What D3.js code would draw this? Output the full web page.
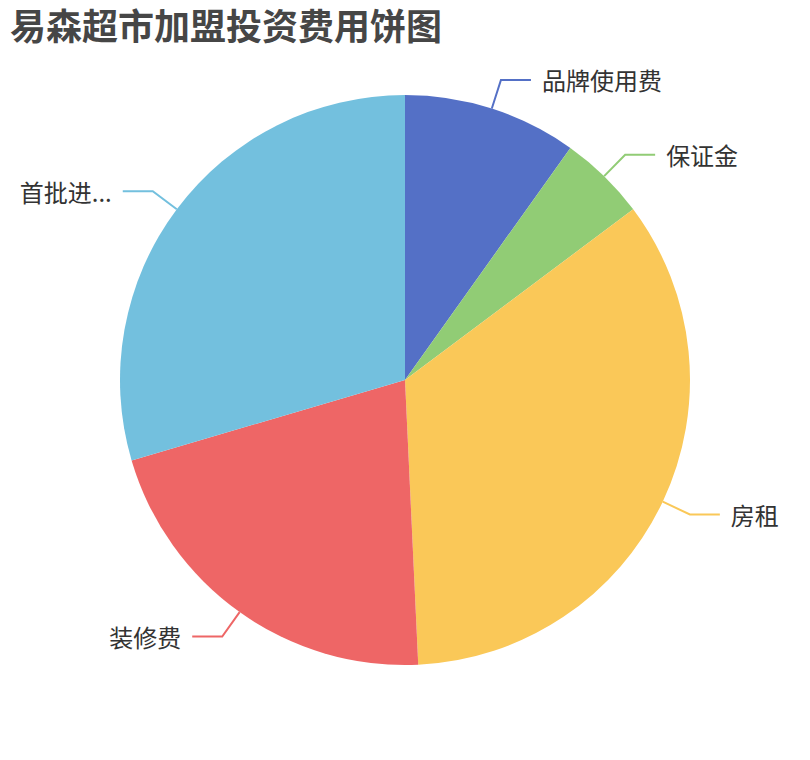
<!DOCTYPE html>
<html>
<head>
<meta charset="utf-8">
<script src="https://cdn.jsdelivr.net/npm/d3@7/dist/d3.min.js"></script>
<style>
  html, body { margin: 0; padding: 0; background: #fff; }
  svg { display: block; }
</style>
</head>
<body>
<svg id="chart" width="810" height="760"></svg>
<script>
const titleText = "易森超市加盟投资费用饼图";
const categories = ["品牌使用费", "保证金", "房租", "装修费", "首批进..."];
const values = [2, 1, 7, 4.3, 6];
const colors = ["#5470c6", "#91cc75", "#fac858", "#ee6666", "#73c0de"];

const W = 810, H = 760;
const cx = 405, cy = 380, R = 285;
const len1 = 30, len2 = 30, gap = 11;

const svg = d3.select("#chart");
const font = "'Noto Sans CJK SC', 'Noto Sans', sans-serif";

svg.append("text")
  .attr("x", 10).attr("y", 24)
  .attr("dominant-baseline", "central")
  .attr("font-family", font)
  .attr("font-size", 36)
  .attr("font-weight", "bold")
  .attr("fill", "#464646")
  .text(titleText);

const data = categories.map((c, i) => ({ name: c, value: values[i], color: colors[i] }));
const pie = d3.pie().value(d => d.value).sort(null).startAngle(0).endAngle(2 * Math.PI);
const arcs = pie(data);
const arc = d3.arc().innerRadius(0).outerRadius(R);

const g = svg.append("g").attr("transform", `translate(${cx},${cy})`);

g.selectAll("path.slice").data(arcs).enter().append("path")
  .attr("class", "slice")
  .attr("d", arc)
  .attr("fill", d => d.data.color);

function pt(a, r) { return [r * Math.sin(a), -r * Math.cos(a)]; }

arcs.forEach(d => {
  const a = (d.startAngle + d.endAngle) / 2;
  const p0 = pt(a, R);
  const p1 = pt(a, R + len1);
  const right = Math.sin(a) >= 0;
  const p2 = [p1[0] + (right ? len2 : -len2), p1[1]];
  g.append("polyline")
    .attr("points", [p0, p1, p2].map(p => p.join(",")).join(" "))
    .attr("fill", "none")
    .attr("stroke", d.data.color)
    .attr("stroke-width", 2);
  g.append("text")
    .attr("x", p2[0] + (right ? gap : -gap))
    .attr("y", p2[1])
    .attr("text-anchor", right ? "start" : "end")
    .attr("dominant-baseline", "central")
    .attr("font-family", font)
    .attr("font-size", 24)
    .attr("fill", "#333")
    .text(d.data.name);
});
</script>
</body>
</html>
